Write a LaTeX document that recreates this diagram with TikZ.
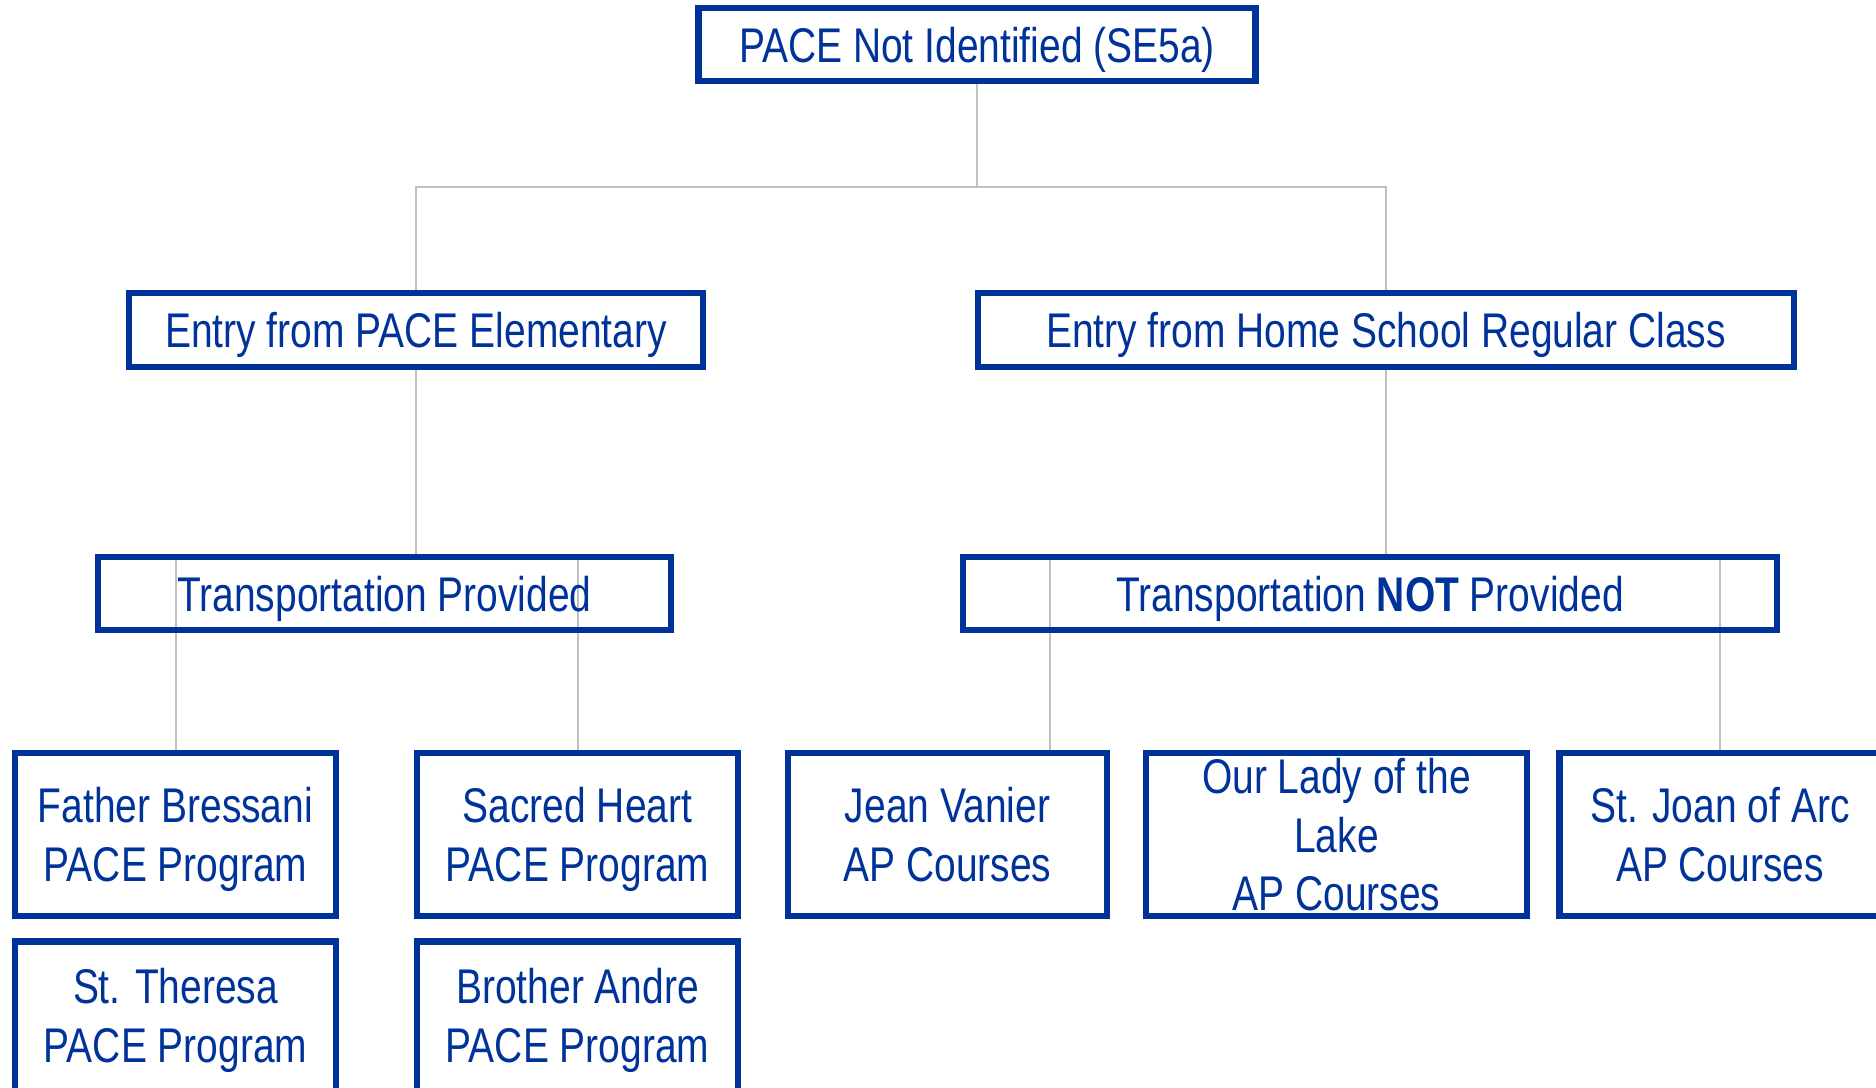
\documentclass[tikz,border=0pt]{standalone}
\usepackage{fontspec}
\setmainfont[FakeStretch=0.8]{Liberation Sans}
\usetikzlibrary{backgrounds}
\definecolor{paceblue}{RGB}{0,51,153}
\definecolor{conngray}{RGB}{192,192,192}
\begin{document}
\begin{tikzpicture}[x=1pt,y=-1pt,
  box/.style={draw=paceblue, line width=6.5pt, text=paceblue, align=center,
    inner sep=0pt, text depth=0pt, font=\fontsize{48.7}{58.5}\selectfont},
  wide/.style={minimum height=73pt},
  leaf/.style={minimum width=321pt, minimum height=163pt},
  conn/.style={draw=conngray, line width=2pt}]
\useasboundingbox (0,0) rectangle (1876,1087);
\clip (0,0) rectangle (1876,1087);
% nodes
\node[box, wide, minimum width=557pt] (top) at (977,44.5) {PACE Not Identified (SE5a)};
\node[box, minimum width=574pt, minimum height=74pt] (e1) at (416,330) {Entry from PACE Elementary};
\node[box, minimum width=816pt, minimum height=74pt] (e2) at (1386,330) {Entry from Home School Regular Class};
\node[box, wide, minimum width=573pt] (t1) at (384.5,593.5) {Transportation Provided};
\node[box, wide, minimum width=814pt] (t2) at (1370,593.5) {Transportation \textbf{NOT} Provided};
\node[box, leaf] (c1) at (175.5,834.5) {Father Bressani\\PACE Program};
\node[box, leaf] (c2) at (577.5,834.5) {Sacred Heart\\PACE Program};
\node[box, leaf, minimum width=319pt] (c3) at (947.5,834.5) {Jean Vanier\\AP Courses};
\node[box, leaf, minimum width=381pt] (c4) at (1336.5,834.5) {Our Lady of the\\Lake\\AP Courses};
\node[box, leaf] (c5) at (1720,834.5) {St. Joan of Arc\\AP Courses};
\node[box, leaf, text depth=15pt] (d1) at (175.5,1023) {St. Theresa\\PACE Program};
\node[box, leaf, text depth=15pt] (d2) at (577.5,1023) {Brother Andre\\PACE Program};
\coordinate (bus) at (977,187);
\coordinate (k3) at (1050,750);
% connectors
\begin{pgfonlayer}{background}
\draw[conn] (top.south) -- (bus);
\draw[conn] (bus) -| (e1.north);
\draw[conn] (bus) -| (e2.north);
\draw[conn] (e1.south) -- (e1.south |- t1.north);
\draw[conn] (e2.south) -- (e2.south |- t2.north);
\draw[conn] (c1.north) -- ([yshift=-4pt]c1.north |- t1.north) -- ([yshift=-4pt]c2.north |- t1.north) -- (c2.north);
\draw[conn] (k3) -- ([yshift=-4pt]k3 |- t2.north) -- ([yshift=-4pt]c5.north |- t2.north) -- (c5.north);
\end{pgfonlayer}
\end{tikzpicture}
\end{document}
